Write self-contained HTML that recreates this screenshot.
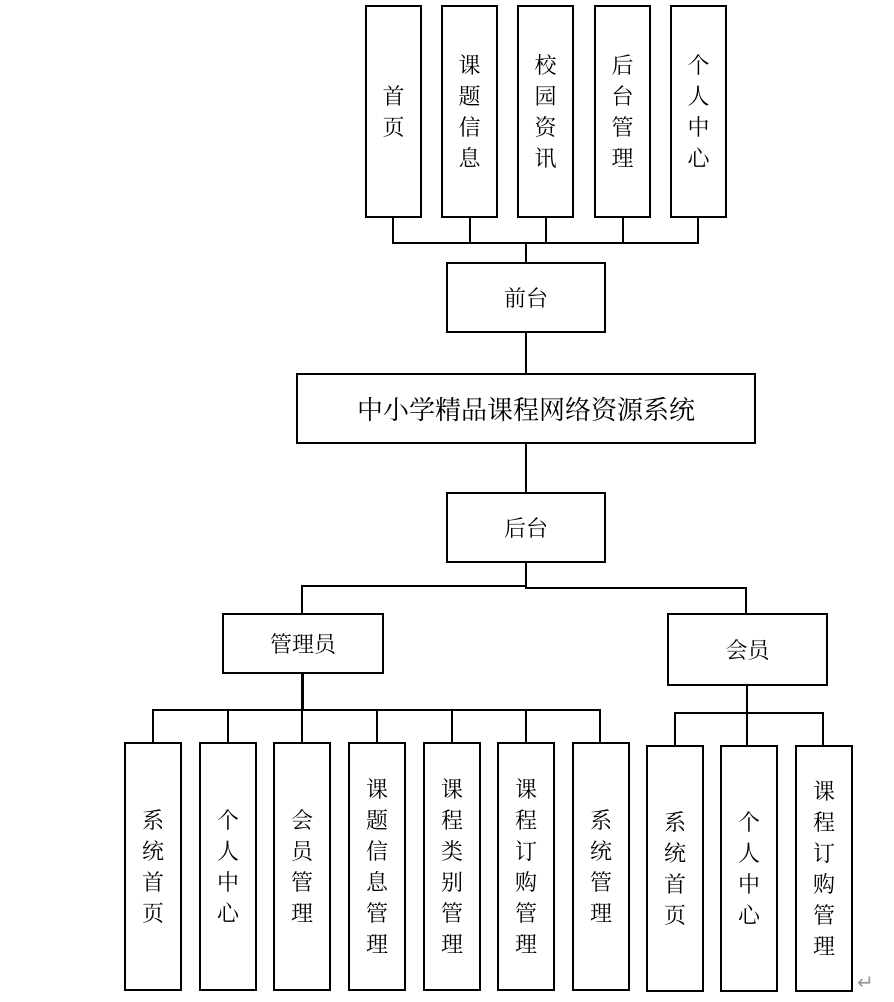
<!DOCTYPE html>
<html><head><meta charset="utf-8"><style>
body{margin:0;background:#fff;width:894px;height:1002px;position:relative;overflow:hidden;font-family:"Liberation Serif","Noto Serif CJK SC","Noto Sans CJK SC",serif;}
.b{position:absolute;border:2px solid #000;box-sizing:border-box;display:flex;align-items:center;justify-content:center;text-align:center;color:#000;}
.v{font-size:22px;line-height:31px;width:1em;word-break:break-all;}
.h{font-size:22px;}
.l{position:absolute;background:#000;}
</style></head><body>
<div class="b" style="left:365px;top:5px;width:57px;height:213px"><span class="v">首页</span></div>
<div class="b" style="left:441px;top:5px;width:57px;height:213px"><span class="v">课题信息</span></div>
<div class="b" style="left:517px;top:5px;width:57px;height:213px"><span class="v">校园资讯</span></div>
<div class="b" style="left:594px;top:5px;width:57px;height:213px"><span class="v">后台管理</span></div>
<div class="b" style="left:670px;top:5px;width:57px;height:213px"><span class="v">个人中心</span></div>
<div class="l" style="left:392px;top:217px;width:2px;height:27px"></div>
<div class="l" style="left:469px;top:217px;width:2px;height:27px"></div>
<div class="l" style="left:545px;top:217px;width:2px;height:27px"></div>
<div class="l" style="left:622px;top:217px;width:2px;height:27px"></div>
<div class="l" style="left:697px;top:217px;width:2px;height:27px"></div>
<div class="l" style="left:392px;top:242px;width:307px;height:2px"></div>
<div class="l" style="left:525px;top:242px;width:2px;height:21px"></div>
<div class="b h" style="left:446px;top:262px;width:160px;height:71px">前台</div>
<div class="l" style="left:525px;top:332px;width:2px;height:42px"></div>
<div class="b" style="left:296px;top:373px;width:460px;height:71px;font-size:26px">中小学精品课程网络资源系统</div>
<div class="l" style="left:525px;top:443px;width:2px;height:50px"></div>
<div class="b h" style="left:446px;top:492px;width:160px;height:71px">后台</div>
<div class="l" style="left:525px;top:562px;width:2px;height:25px"></div>
<div class="l" style="left:301px;top:585px;width:226px;height:2px"></div>
<div class="l" style="left:525px;top:587px;width:222px;height:2px"></div>
<div class="l" style="left:301px;top:585px;width:2px;height:29px"></div>
<div class="l" style="left:745px;top:587px;width:2px;height:27px"></div>
<div class="b h" style="left:222px;top:613px;width:162px;height:61px">管理员</div>
<div class="b h" style="left:667px;top:613px;width:161px;height:73px">会员</div>
<div class="l" style="left:301px;top:673px;width:3px;height:38px"></div>
<div class="l" style="left:152px;top:709px;width:449px;height:2px"></div>
<div class="l" style="left:152px;top:709px;width:2px;height:34px"></div>
<div class="l" style="left:227px;top:709px;width:2px;height:34px"></div>
<div class="l" style="left:301px;top:709px;width:2px;height:34px"></div>
<div class="l" style="left:376px;top:709px;width:2px;height:34px"></div>
<div class="l" style="left:451px;top:709px;width:2px;height:34px"></div>
<div class="l" style="left:525px;top:709px;width:2px;height:34px"></div>
<div class="l" style="left:599px;top:709px;width:2px;height:34px"></div>
<div class="l" style="left:746px;top:685px;width:2px;height:28px"></div>
<div class="l" style="left:674px;top:712px;width:150px;height:2px"></div>
<div class="l" style="left:674px;top:712px;width:2px;height:34px"></div>
<div class="l" style="left:746px;top:712px;width:2px;height:34px"></div>
<div class="l" style="left:822px;top:712px;width:2px;height:34px"></div>
<div class="b" style="left:124px;top:742px;width:58px;height:249px"><span class="v">系统首页</span></div>
<div class="b" style="left:199px;top:742px;width:58px;height:249px"><span class="v">个人中心</span></div>
<div class="b" style="left:273px;top:742px;width:58px;height:249px"><span class="v">会员管理</span></div>
<div class="b" style="left:348px;top:742px;width:58px;height:249px"><span class="v">课题信息管理</span></div>
<div class="b" style="left:423px;top:742px;width:58px;height:249px"><span class="v">课程类别管理</span></div>
<div class="b" style="left:497px;top:742px;width:58px;height:249px"><span class="v">课程订购管理</span></div>
<div class="b" style="left:572px;top:742px;width:58px;height:249px"><span class="v">系统管理</span></div>
<div class="b" style="left:646px;top:745px;width:58px;height:247px"><span class="v">系统首页</span></div>
<div class="b" style="left:720px;top:745px;width:58px;height:247px"><span class="v">个人中心</span></div>
<div class="b" style="left:795px;top:745px;width:58px;height:247px"><span class="v">课程订购管理</span></div>
<div style="position:absolute;left:857px;top:970px;font-size:20px;color:#999">↵</div>
</body></html>
